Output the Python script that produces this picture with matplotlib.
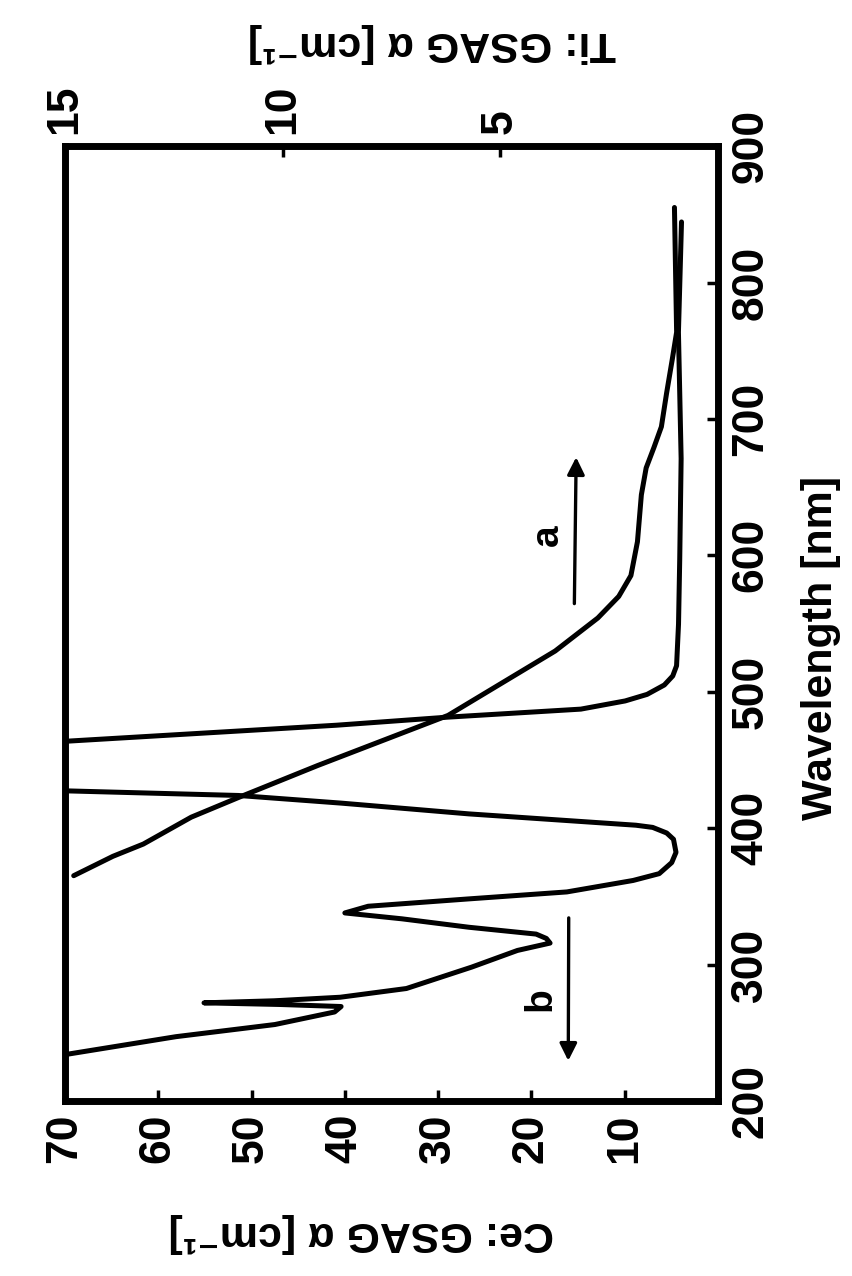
import numpy as np
import matplotlib.pyplot as plt

# values (the scan is drawn turned on its side)
# curve b: Ce:GSAG absorption [cm-1] against wavelength [nm], nan = band runs off scale
ce_wavelength = [233.5, 247.2, 256.1, 265.3, 269.3, 270.8, 272.0, 273.5, 276.1, 282.5,
                 298.2, 310.4, 315.8, 319.2, 322.4, 327.4, 333.6, 337.9, 342.8, 348.1,
                 353.3, 361.7, 366.7, 374.8, 382.3, 391.9, 396.5, 400.6, 402.2, 410.5,
                 418.4, 424.0, 427.5, np.nan, 463.5, 475.5, 481.4, 487.3, 493.3, 498.1,
                 505.0, 511.6, 519.1, 549.6, 597.5, 670.9, 763.6, 844.4]
ce_alpha = [70.5, 58.1, 47.5, 41.1, 40.4, 47.0, 55.1, 47.6, 40.5, 33.4,
            26.4, 21.5, 18.0, 18.4, 19.5, 26.7, 33.9, 40.0, 37.5, 26.9,
            16.2, 9.1, 6.3, 4.96, 4.5, 4.77, 5.5, 7.0, 8.8, 26.7,
            40.4, 51.4, 70.5, np.nan, 70.5, 40.9, 29.0, 14.7, 9.95, 7.6,
            5.75, 4.85, 4.44, 4.23, 4.1, 3.95, 4.24, 3.91]

# curve a: Ti:GSAG absorption [cm-1] against wavelength [nm]
ti_wavelength = [365.2, 379.4, 388.4, 408.1, 422.7, 445.9, 482.7, 529.9, 554.1, 569.9,
                 585.2, 610.0, 644.4, 664.1, 679.2, 694.3, 719.0, 743.7, 763.6, 855.0]
ti_alpha = [14.8, 13.9, 13.2, 12.1, 11.0, 9.2, 6.2, 3.74, 2.76, 2.28,
            2.0, 1.85, 1.76, 1.65, 1.47, 1.30, 1.18, 1.05, 0.95, 1.0]

ce_ticks = [10, 20, 30, 40, 50, 60, 70]
ti_ticks = [5, 10, 15]
wl_ticks = [200, 300, 400, 500, 600, 700, 800, 900]

plt.rcParams['font.family'] = ['Liberation Sans', 'DejaVu Sans']
plt.rcParams['font.weight'] = 'bold'
plt.rcParams['axes.labelweight'] = 'bold'

fig = plt.figure(figsize=(8.52, 12.76), dpi=100)
ax = fig.add_axes([0.0763, 0.1371, 0.7664, 0.7484])

ax.plot(ce_alpha, ce_wavelength, color='black', linewidth=3.6,
        solid_capstyle='round', solid_joinstyle='round')
ax.set_xlim(70, 0)
ax.set_ylim(200, 900)

# Ce scale along the bottom, wavelength along the right side
ax.set_xticks(ce_ticks)
ax.set_xticklabels([str(t) for t in ce_ticks], rotation=90)
ax.yaxis.tick_right()
ax.set_yticks(wl_ticks)
ax.set_yticklabels([str(t) for t in wl_ticks], rotation=90, va='center')
ax.tick_params(direction='in', length=8, width=2.5, labelsize=32, pad=9)
ax.tick_params(left=False, labelleft=False)

ax.set_xlabel('Ce: GSAG α [cm⁻¹]', fontsize=31, rotation=180)
ax.xaxis.set_label_coords(0.453, -0.138)
ax.xaxis.label.set_verticalalignment('center')

ax.yaxis.set_label_position('right')
ax.set_ylabel('Wavelength [nm]', fontsize=31, rotation=90)
ax.yaxis.set_label_coords(1.158, 0.474)
ax.yaxis.label.set_verticalalignment('center')
ax.yaxis.label.set_horizontalalignment('center')

# Ti scale along the top
ax2 = ax.twiny()
ax2.plot(ti_alpha, ti_wavelength, color='black', linewidth=3.6,
         solid_capstyle='round', solid_joinstyle='round')
ax2.set_xlim(15, 0)
ax2.set_ylim(200, 900)
ax2.set_xticks(ti_ticks)
ax2.set_xticklabels([str(t) for t in ti_ticks], rotation=90)
ax2.tick_params(direction='in', length=8, width=2.5, labelsize=32, pad=9)
ax2.set_xlabel('Ti: GSAG α [cm⁻¹]', fontsize=31, rotation=180)
ax2.xaxis.set_label_coords(0.562, 1.108)
ax2.xaxis.label.set_verticalalignment('center')

for a in (ax, ax2):
    for sp in a.spines.values():
        sp.set_linewidth(4.8)

# arrows telling which scale belongs to which curve
arrow = dict(arrowstyle='-|>', color='black', lw=2.4, mutation_scale=26)
ax.annotate('', xy=(15.2, 674), xytext=(15.4, 562.6), arrowprops=arrow)
ax.text(18.2, 615, 'a', rotation=90, fontsize=28, ha='center', va='center')
ax.annotate('', xy=(16.05, 227.5), xytext=(16.0, 336.3), arrowprops=arrow)
ax.text(19.0, 275, 'b', rotation=90, fontsize=28, ha='center', va='center')

fig.savefig('out.png', dpi=100, facecolor='white')
